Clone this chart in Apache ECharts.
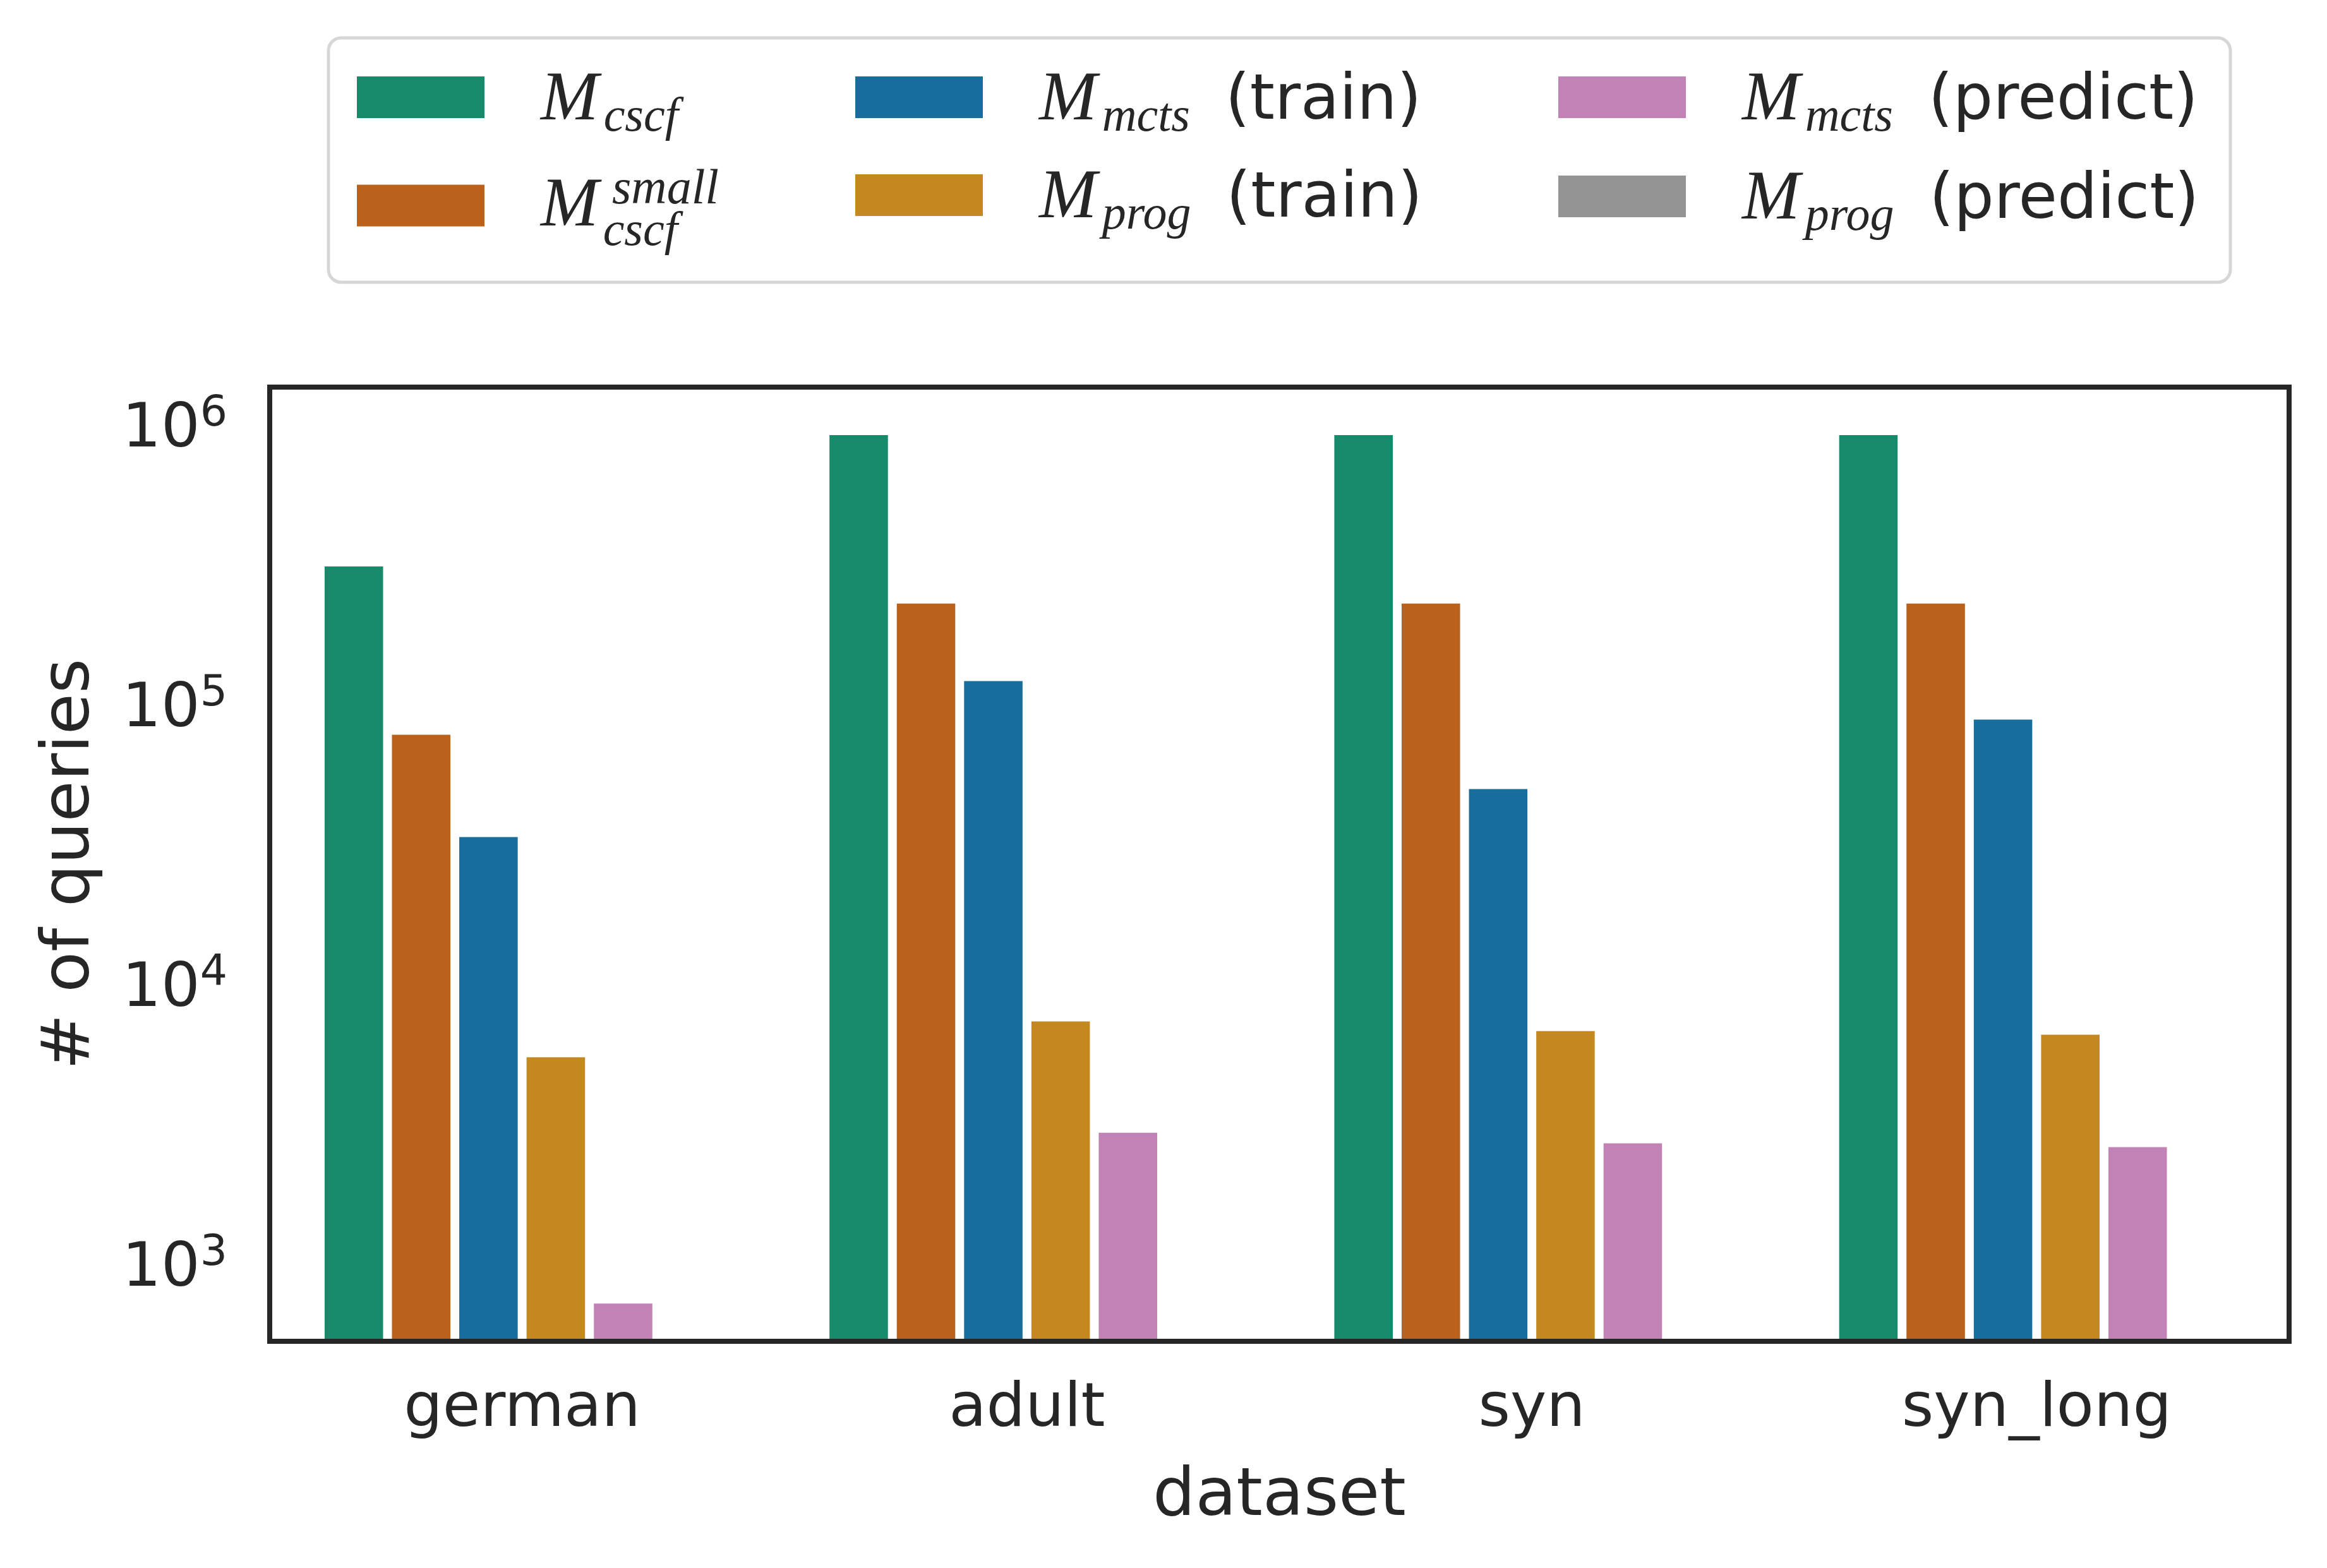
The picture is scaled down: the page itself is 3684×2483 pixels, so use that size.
<!DOCTYPE html>
<html>
<head>
<meta charset="utf-8">
<script src="https://cdn.jsdelivr.net/npm/echarts@6/dist/echarts.min.js"></script>
<style>
html,body{margin:0;padding:0;background:#fff;}
#chart{width:3684px;height:2483px;}
</style>
</head>
<body>
<div id="chart"></div>
<script>
// ---- data ----
const categories = ['german', 'adult', 'syn', 'syn_long'];
const seriesNames = ['M_cscf', 'M_cscf_small', 'M_mcts (train)', 'M_prog (train)', 'M_mcts (predict)', 'M_prog (predict)'];
const cscf        = [339000, 1000000, 1000000, 1000000];
const cscfSmall   = [84900, 250000, 250000, 250000];
const mctsTrain   = [36600, 132000, 54300, 96200];
const progTrain   = [5970, 8020, 7410, 7190];
const mctsPredict = [787, 3210, 2940, 2850];
const progPredict = [null, null, null, null];
const yTickExponents = [3, 4, 5, 6];

const seriesData = [cscf, cscfSmall, mctsTrain, progTrain, mctsPredict, progPredict];
const colors = ['#168a6a', '#ba611b', '#176d9c', '#c38820', '#c182b5', '#949494'];

const TXT = '#262626';
const SANS = 'DejaVu Sans';
const SERIF = 'Liberation Serif';

const legendRich = {
  M:   {fontFamily: SERIF, fontStyle: 'italic', fontSize: 110, color: TXT, lineHeight: 60, verticalAlign: 'middle', padding: [12, 0, 0, 84]},
  sub: {fontFamily: SERIF, fontStyle: 'italic', fontSize: 76, color: TXT, lineHeight: 60, verticalAlign: 'middle', padding: [66, 0, 0, 8]},
  t:   {fontFamily: SANS, fontSize: 100, color: TXT, lineHeight: 60, verticalAlign: 'middle', padding: [16, 0, 0, 24]},
  sp:  {fontFamily: SANS, fontSize: 20, lineHeight: 20, width: 197, verticalAlign: 'middle'},
  sup: {fontFamily: SERIF, fontStyle: 'italic', fontSize: 78, color: TXT, lineHeight: 20, verticalAlign: 'middle', padding: [0, 0, 3, 0]},
  M2:  {fontFamily: SERIF, fontStyle: 'italic', fontSize: 110, color: TXT, lineHeight: 46, verticalAlign: 'middle', padding: [0, 0, 15, 84]},
  sub2:{fontFamily: SERIF, fontStyle: 'italic', fontSize: 76, color: TXT, lineHeight: 46, verticalAlign: 'middle', padding: [66, 0, 0, 7]}
};
const legendLabels = {
  'M_cscf': '{M|M}{sub|cscf}',
  'M_cscf_small': '{sp| }{sup|small}\n{M2|M}{sub2|cscf}',
  'M_mcts (train)': '{M|M}{sub|mcts}{t| (train)}',
  'M_prog (train)': '{M|M}{sub|prog}{t| (train)}',
  'M_mcts (predict)': '{M|M}{sub|mcts}{t| (predict)}',
  'M_prog (predict)': '{M|M}{sub|prog}{t| (predict)}'
};
const legendPos = [
  [565, 83], [565, 262], [1354, 83], [1354, 238], [2467, 83], [2467, 240]
];

const legends = seriesNames.map((n, i) => ({
  data: [n],
  orient: 'vertical',
  left: legendPos[i][0],
  top: legendPos[i][1],
  padding: 0,
  itemWidth: 202,
  itemHeight: 66,
  icon: 'rect',
  selectedMode: false,
  itemStyle: {borderWidth: 0},
  textStyle: {lineHeight: 60, rich: legendRich},
  formatter: name => legendLabels[name],
  z: 5
}));

const chart = echarts.init(document.getElementById('chart'), null, {renderer: 'canvas'});
chart.setOption({
  animation: false,
  backgroundColor: '#ffffff',
  textStyle: {fontFamily: SANS, color: TXT},
  graphic: [{
    type: 'rect', z: 1,
    shape: {x: 520, y: 60, width: 3011, height: 387, r: 20},
    style: {fill: '#ffffff', stroke: '#d6d6d6', lineWidth: 5}
  }],
  legend: legends,
  grid: {
    left: 427, right: 60, top: 613, bottom: 359,
    show: true, borderColor: TXT, borderWidth: 8, backgroundColor: 'transparent'
  },
  xAxis: {
    type: 'category',
    data: categories,
    z: 10,
    axisLine: {show: true, lineStyle: {color: TXT, width: 8}},
    axisTick: {show: false},
    axisLabel: {fontFamily: SANS, fontSize: 97, color: TXT, margin: 60},
    name: 'dataset',
    nameLocation: 'middle',
    nameGap: 194,
    nameTextStyle: {fontFamily: SANS, fontSize: 106, color: TXT}
  },
  yAxis: {
    type: 'log',
    logBase: 10,
    min: 556,
    max: 1431000,
    z: 10,
    axisLine: {show: false},
    axisTick: {show: false},
    splitLine: {show: false},
    minorTick: {show: false},
    axisLabel: {
      margin: 67,
      formatter: function (v) {
        const e = Math.log10(v);
        const r = Math.round(e);
        if (Math.abs(e - r) > 1e-6 || yTickExponents.indexOf(r) < 0) return '';
        return '{b|10}{s|' + r + '}';
      },
      rich: {
        b: {fontFamily: SANS, fontSize: 97, color: TXT, lineHeight: 100, verticalAlign: 'middle'},
        s: {fontFamily: SANS, fontSize: 68, color: TXT, lineHeight: 100, verticalAlign: 'middle', padding: [0, 0, 51, 0]}
      }
    },
    name: '# of queries',
    nameLocation: 'middle',
    nameGap: 262,
    nameTextStyle: {fontFamily: SANS, fontSize: 106, color: TXT}
  },
  series: seriesNames.map((n, i) => ({
    name: n,
    type: 'bar',
    data: seriesData[i],
    barGap: '0%',
    barCategoryGap: '20%',
    clip: true,
    itemStyle: {color: colors[i], borderColor: '#ffffff', borderWidth: 7},
    emphasis: {disabled: true}
  }))
});
</script>
</body>
</html>
